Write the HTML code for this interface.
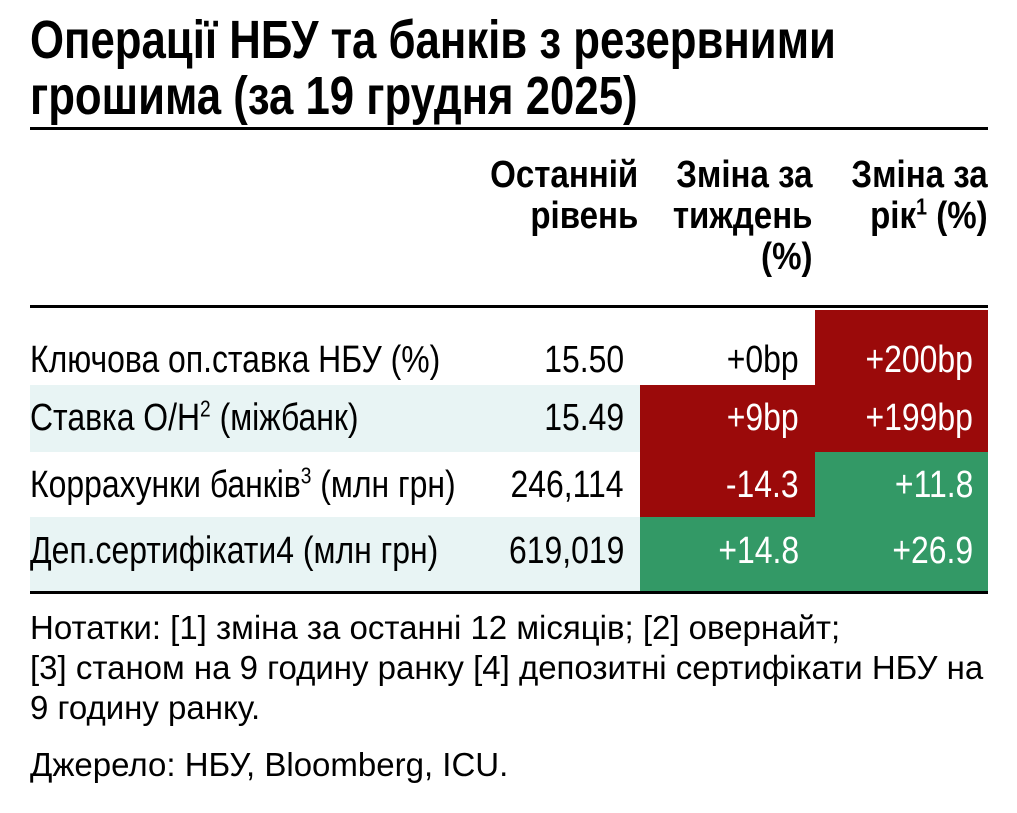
<!DOCTYPE html>
<html><head><meta charset="utf-8"><style>
body{margin:0;width:1017px;height:813px;background:#fff;position:relative;overflow:hidden;font-family:"Liberation Sans",sans-serif;color:#000}
.a{position:absolute;white-space:nowrap}
.t{font-weight:bold;font-size:54px;left:30px;line-height:55px;transform:scaleX(0.81);transform-origin:left}
.h{font-weight:bold;font-size:38px;line-height:41px;text-align:right;transform:scaleX(0.87);transform-origin:right}
.c{font-size:38px;line-height:40px;transform:scaleX(0.84);transform-origin:left}
.r{text-align:right;transform-origin:right}
.w{color:#fff}
.n{font-size:33px;left:30px;line-height:40px}
sup{font-size:60%;line-height:0;vertical-align:super}
</style></head><body>
<div class="a t" style="top:13px">Операції НБУ та банків з резервними</div>
<div class="a t" style="top:69px">грошима (за 19 грудня 2025)</div>
<div class="a" style="left:30px;top:127px;width:958px;height:3px;background:#000"></div>
<div class="a h" style="top:155px;right:379px">Останній<br>рівень</div>
<div class="a h" style="top:155px;right:205px">Зміна за<br>тиждень<br>(%)</div>
<div class="a h" style="top:155px;right:29px">Зміна за<br>рік<sup>1</sup> (%)</div>
<div class="a" style="left:30px;top:305px;width:958px;height:3px;background:#000"></div>
<div class="a" style="left:30px;top:385px;width:610px;height:67px;background:#e8f4f4"></div>
<div class="a" style="left:30px;top:517px;width:610px;height:75px;background:#e8f4f4"></div>
<div class="a" style="left:815px;top:310px;width:173px;height:142px;background:#9b0a0a"></div>
<div class="a" style="left:640px;top:385px;width:175px;height:132px;background:#9b0a0a"></div>
<div class="a" style="left:815px;top:452px;width:173px;height:140px;background:#339966"></div>
<div class="a" style="left:640px;top:517px;width:175px;height:75px;background:#339966"></div>
<div class="a" style="left:30px;top:591px;width:958px;height:3px;background:#000"></div>
<div class="a c" style="left:30px;top:340px">Ключова оп.ставка НБУ (%)</div>
<div class="a c r" style="right:393px;top:340px">15.50</div>
<div class="a c r" style="right:218px;top:340px">+0bp</div>
<div class="a c r w" style="right:44px;top:340px">+200bp</div>
<div class="a c" style="left:30px;top:398px">Ставка O/H<sup>2</sup> (міжбанк)</div>
<div class="a c r" style="right:393px;top:398px">15.49</div>
<div class="a c r w" style="right:218px;top:398px">+9bp</div>
<div class="a c r w" style="right:44px;top:398px">+199bp</div>
<div class="a c" style="left:30px;top:465px">Коррахунки банків<sup>3</sup> (млн грн)</div>
<div class="a c r" style="right:393px;top:465px">246,114</div>
<div class="a c r w" style="right:218px;top:465px">-14.3</div>
<div class="a c r w" style="right:44px;top:465px">+11.8</div>
<div class="a c" style="left:30px;top:531px">Деп.сертифікати4 (млн грн)</div>
<div class="a c r" style="right:393px;top:531px">619,019</div>
<div class="a c r w" style="right:218px;top:531px">+14.8</div>
<div class="a c r w" style="right:44px;top:531px">+26.9</div>
<div class="a n" style="top:608px">Нотатки: [1] зміна за останні 12 місяців; [2] овернайт;</div>
<div class="a n" style="top:648px">[3] станом на 9 годину ранку [4] депозитні сертифікати НБУ на</div>
<div class="a n" style="top:688px">9 годину ранку.</div>
<div class="a n" style="top:745px">Джерело: НБУ, Bloomberg, ICU.</div>
</body></html>
